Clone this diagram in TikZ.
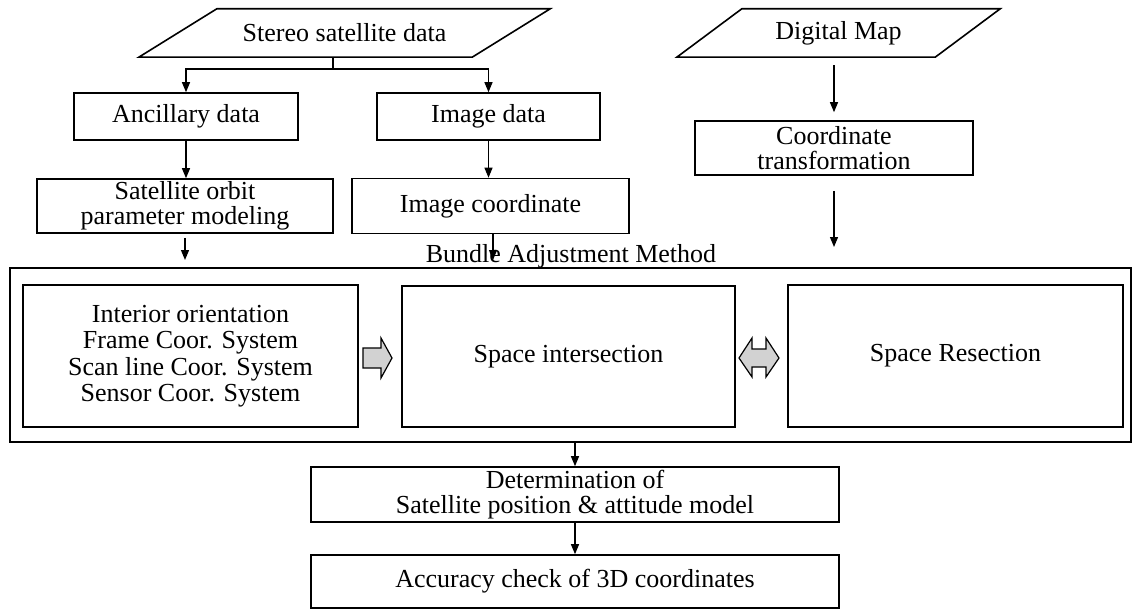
\documentclass[tikz,border=0pt]{standalone}
\usepackage{fontspec}
\setmainfont{Liberation Serif}
\usetikzlibrary{arrows.meta}

\begin{document}
\begin{tikzpicture}[x=1pt,y=-1pt]
	\tikzstyle{fleche}=[-{Triangle[length=10pt,width=8pt]},line width=1.2pt]
	\tikzstyle{trait}=[line width=1.2pt]
	\tikzstyle{boite}=[draw,line width=1.6pt,inner sep=0pt,align=center,font=\Police]
	\tikzstyle{donnee}=[inner sep=0pt,align=center,font=\Police]
	\tikzstyle{cadre}=[draw,line width=1.4pt,inner sep=0pt]
	\tikzstyle{grise}=[draw,line width=1.2pt,fill=gray!35,line join=miter]
	\def\Police{\fontsize{26}{25.5}\selectfont}
	\def\PoliceLarge{\fontsize{26}{26.5}\selectfont}
	\def\BiaisS{39}
	\def\BiaisD{32.5}
	\useasboundingbox (0,0) rectangle (1133,610);
	% donnees d'entree
	\node[donnee,minimum width=333pt,minimum height=48pt] (S) at (344.5,33) {Stereo satellite data};
	\draw[line width=1.6pt] ([xshift=-\BiaisS pt]S.south west) -- ([xshift=-\BiaisS pt]S.south east)
		-- ([xshift=\BiaisS pt]S.north east) -- ([xshift=\BiaisS pt]S.north west) -- cycle;
	\node[donnee,minimum width=258pt,minimum height=48pt] (D) at (838.5,33) {Digital Map};
	\draw[line width=1.6pt] ([xshift=-\BiaisD pt]D.south west) -- ([xshift=-\BiaisD pt]D.south east)
		-- ([xshift=\BiaisD pt]D.north east) -- ([xshift=\BiaisD pt]D.north west) -- cycle;
	% branche gauche
	\node[boite,minimum width=224pt,minimum height=47pt] (Sa) at (186,116.5) {Ancillary data};
	\node[boite,minimum width=296pt,minimum height=54pt] (Saa) at (185,206) {Satellite orbit\\parameter modeling};
	\node[boite,minimum width=223pt,minimum height=47pt] (Sb) at (488.5,116.5) {Image data};
	\node[boite,minimum width=277pt,minimum height=55pt] (Sba) at (490.5,206) {Image coordinate};
	\node[boite,minimum width=278pt,minimum height=54pt] (Da) at (834,148) {Coordinate\\transformation};
	% ajustement
	\node[cadre,minimum width=1121pt,minimum height=174pt] (B) at (570.5,355) {};
	\node[donnee,anchor=base] (T) at (571,262) {Bundle Adjustment Method};
	\node[boite,font=\PoliceLarge,minimum width=335pt,minimum height=142pt] (Bi) at (190.5,356)
		{Interior orientation\\Frame Coor. System\\Scan line Coor. System\\Sensor Coor. System};
	\node[boite,minimum width=333pt,minimum height=141pt] (Bs) at (568.5,356.5) {Space intersection};
	\node[boite,minimum width=335pt,minimum height=142pt] (Br) at (955.5,356) {Space Resection};
	% resultats
	\node[boite,minimum width=528pt,minimum height=55pt] (P) at (575,494.5) {Determination of\\Satellite position \& attitude model};
	\node[boite,minimum width=528pt,minimum height=53pt] (Pa) at (575,581.5) {Accuracy check of 3D coordinates};
	% liens
	\coordinate (F) at (333,69);
	\coordinate (Ea) at (185,260);
	\coordinate (Eb) at (493,260);
	\coordinate (Ec) at (834,247);
	\draw[trait] (F |- S.south) -- (F);
	\draw[fleche] (F) -| (Sa.north);
	\draw[fleche] (F) -| (Sb.north);
	\draw[fleche] (Sa.south) -- (Sa.south |- Saa.north);
	\draw[fleche] (Sb.south) -- (Sb.south |- Sba.north);
	\draw[fleche,shorten <=4pt] (Saa.south -| Ea) -- (Ea);
	\draw[fleche] (Sba.south -| Eb) -- (Eb);
	\draw[fleche,shorten <=8pt,shorten >=8pt] (Da.north |- D.south) -- (Da.north);
	\draw[fleche,shorten <=15pt] (Da.south) -- (Ec);
	\draw[fleche] (B.south -| P.north) -- (P.north);
	\draw[fleche] (P.south) -- (Pa.north);
	% fleches grises
	\draw[grise] (363,348) -- (381,348) -- (381,338) -- (392,358) -- (381,378) -- (381,368) -- (363,368) -- cycle;
	\draw[grise] (739,358) -- (752,338) -- (752,349) -- (766,349) -- (766,338) -- (779,358)
		-- (766,377) -- (766,367) -- (752,367) -- (752,377) -- cycle;
\end{tikzpicture}
\end{document}
